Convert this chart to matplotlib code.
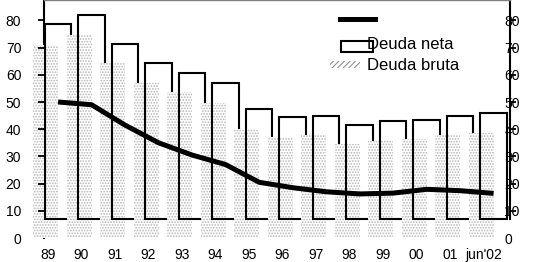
import numpy as np
import matplotlib
matplotlib.use('Agg')
import matplotlib.pyplot as plt
import matplotlib.transforms as mtransforms
from matplotlib.patches import Rectangle
from matplotlib.lines import Line2D

plt.rcParams['font.family'] = ['Liberation Sans', 'DejaVu Sans']
plt.rcParams['hatch.linewidth'] = 0.8

years = ['89', '90', '91', '92', '93', '94', '95', '96', '97', '98', '99', '00', '01', "jun'02"]
deuda_neta = [78.5, 82, 71.5, 64.5, 60.5, 57, 47.5, 44.5, 45, 41.5, 43, 43.5, 45, 46]
deuda_bruta = [71, 74.5, 64.5, 57, 53.5, 49.5, 40, 37, 38, 34.5, 35.5, 36.5, 38, 38.5]
linea = [50, 49, 41.5, 35, 30.5, 27, 20.5, 18.5, 17, 16.2, 16.5, 17.9, 17.4, 16.4]

base_neta = 7
x = np.arange(len(years))

W, H = 535, 262
fig = plt.figure(figsize=(W / 100, H / 100), dpi=100)
ax = fig.add_axes([44 / W, 24 / H, 466 / W, 238 / H])

# per category: dotted bar first, then the outline bar over it
for i in range(len(years)):
    ax.bar(x[i] - 0.07, deuda_bruta[i], width=0.74, color='white', edgecolor='#b4b4b4',
           hatch='......', linewidth=0, zorder=3 + 2 * i, clip_on=False)
    ax.bar(x[i] + 0.3, deuda_neta[i] - base_neta, bottom=base_neta, width=0.8, fill=False,
           edgecolor='black', linewidth=1.5, zorder=4 + 2 * i)

ax.plot(x + 0.3, linea, color='black', linewidth=3.6, zorder=100, solid_capstyle='butt')

ax.set_xlim(-0.12, 13.79)
ax.set_ylim(0, 87.5)
ax.set_xticks(x)
ax.set_xticklabels(years, fontsize=10)
ax.tick_params(axis='x', length=0, pad=7)

# y ticks on both sides, right labels sitting on the spine
ax.set_yticks(range(0, 90, 10))
ax.tick_params(axis='y', left=True, right=True, labelleft=True, labelright=True,
               direction='out', length=4.3, width=1.3, labelsize=10, pad=12)
shift = mtransforms.ScaledTranslation(-4 / 72, 0, fig.dpi_scale_trans)
for t in ax.yaxis.get_major_ticks():
    t.label2.set_horizontalalignment('left')
    t.label2.set_transform(ax.get_yaxis_transform(which='tick2') + shift)
ax.yaxis.get_major_ticks()[0].tick1line.set_visible(False)
ax.yaxis.get_major_ticks()[0].tick2line.set_visible(False)
ax.yaxis.set_zorder(200)

ax.spines['bottom'].set_visible(False)
ax.spines['top'].set_color('#808080')
ax.spines['top'].set_linewidth(1)
ax.spines['left'].set_linewidth(1.5)
ax.spines['left'].set_zorder(0.5)
ax.spines['right'].set_linewidth(1.5)
ax.spines['right'].set_bounds(base_neta, 87.5)

# legend, drawn by hand like the original
fig.add_artist(Line2D([340 / W, 375 / W], [1 - 19 / H, 1 - 19 / H], color='black', linewidth=3.6))
fig.add_artist(Rectangle((341 / W, 1 - 52 / H), 32 / W, 11 / H, fill=False, edgecolor='black', linewidth=1.5))
fig.add_artist(Rectangle((330 / W, 1 - 68 / H), 30 / W, 7 / H, facecolor='white', edgecolor='#909090',
                         hatch='//////', linewidth=0))
fig.text(367 / W, 1 - 44 / H, 'Deuda neta', fontsize=12, va='center', ha='left')
fig.text(367 / W, 1 - 65 / H, 'Deuda bruta', fontsize=12, va='center', ha='left')

fig.savefig('out.png', dpi=100)
